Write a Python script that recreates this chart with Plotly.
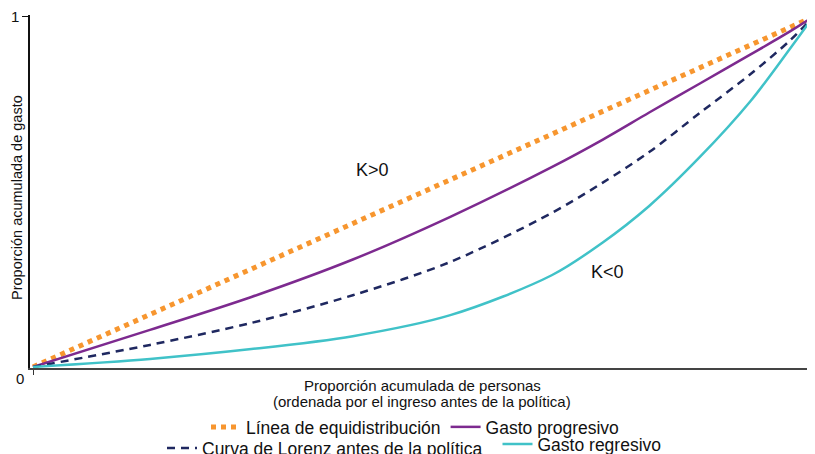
import plotly.graph_objects as go

# ================= DATA =================
X_EQ = [0, 1]
Y_EQ = [0, 1]

X_CURVE = [0, 0.15, 0.28, 0.41, 0.535, 0.665, 0.73, 0.79, 0.855, 0.92, 0.97, 1]
Y_PROGRESIVO = [0, 0.106, 0.200, 0.307, 0.429, 0.571, 0.649, 0.727, 0.810, 0.893, 0.958, 1]
Y_LORENZ = [0, 0.063, 0.126, 0.205, 0.300, 0.440, 0.526, 0.614, 0.726, 0.837, 0.932, 1]
Y_REGRESIVO = [0, 0.023, 0.051, 0.088, 0.148, 0.262, 0.355, 0.460, 0.600, 0.760, 0.908, 1]

NAMES = [
    "Línea de equidistribución",
    "Gasto progresivo",
    "Curva de Lorenz antes de la política",
    "Gasto regresivo",
]
X_TITLE_1 = "Proporción acumulada de personas"
X_TITLE_2 = "(ordenada por el ingreso antes de la política)"
Y_TITLE = "Proporción acumulada de gasto"
# ========================================

# il body della pagina ha un margine di 8px: tutto è spostato di OFF
OFF = 8
SCREEN_W, SCREEN_H = 815, 454
W, H = SCREEN_W - OFF, SCREEN_H - OFF
PLOT_L, PLOT_T, PLOT_B = 30, 15, 368        # in pixel dello schermo
ML, MR, MT = PLOT_L - OFF, 0, PLOT_T - OFF
MB = H - (PLOT_B - OFF)
PW, PH = W - ML - MR, H - MT - MB

FONT = "Liberation Sans, Arial, sans-serif"
TXT = "#111"
ORANGE = "#F7962F"
PURPLE = "#7D2A8F"
NAVY = "#1F2860"
TEAL = "#40C2C8"


def px_to_paper(px, py):
    # pixel dello schermo -> coordinate paper
    return (px - PLOT_L) / PW, (PLOT_B - py) / PH


def add_label(px, py, text, size, angle=0):
    x, y = px_to_paper(px, py)
    fig.add_annotation(x=x, y=y, xref="paper", yref="paper", text=text,
                       textangle=angle, showarrow=False,
                       xanchor="center", yanchor="middle",
                       font=dict(size=size, color=TXT))


fig = go.Figure()

fig.add_trace(go.Scatter(
    x=X_EQ, y=Y_EQ, mode="lines", name=NAMES[0],
    line=dict(color=ORANGE, width=5, dash="dot"),
    legend="legend"
))
fig.add_trace(go.Scatter(
    x=X_CURVE, y=Y_PROGRESIVO, mode="lines", name=NAMES[1],
    line=dict(color=PURPLE, width=2.5, shape="spline", smoothing=0.9),
    legend="legend"
))
fig.add_trace(go.Scatter(
    x=X_CURVE, y=Y_LORENZ, mode="lines", name=NAMES[2],
    line=dict(color=NAVY, width=2.5, dash="8px,6px", shape="spline", smoothing=0.9),
    legend="legend2"
))
fig.add_trace(go.Scatter(
    x=X_CURVE, y=Y_REGRESIVO, mode="lines", name=NAMES[3],
    line=dict(color=TEAL, width=2.5, shape="spline", smoothing=0.9),
    legend="legend3"
))

fig.add_annotation(x=0.435, y=0.563, text="K>0", showarrow=False,
                   font=dict(size=18, color=TXT))
fig.add_annotation(x=0.736, y=0.271, text="K<0", showarrow=False,
                   font=dict(size=18, color=TXT))

add_label(20, 378, "0", 15)
add_label(422, 385, X_TITLE_1, 15)
add_label(422, 401, X_TITLE_2, 15)
add_label(17, 198, Y_TITLE, 14.5, angle=-90)


def legend_at(cx, cy):
    # legenda orizzontale centrata su (cx, cy) in pixel dello schermo
    return dict(
        orientation="h", xref="paper", x=(cx - PLOT_L) / PW, xanchor="center",
        yref="container", y=(SCREEN_H - cy) / H, yanchor="middle",
        font=dict(size=17.5, family=FONT, color=TXT),
        bgcolor="rgba(0,0,0,0)", itemwidth=30, tracegroupgap=0,
    )


fig.update_layout(
    width=W, height=H,
    margin=dict(l=ML, r=MR, t=MT, b=MB, autoexpand=False),
    plot_bgcolor="white", paper_bgcolor="white",
    font=dict(family=FONT, size=14, color=TXT),
    showlegend=True,
    legend=legend_at(415, 427),
    legend2=legend_at(325, 448),
    legend3=legend_at(582, 444),
    xaxis=dict(
        range=[-0.00385, 1.00256],
        tickvals=[0, 1], ticktext=["", "1"],
        ticks="outside", ticklen=5, tickcolor="#333",
        ticklabeloverflow="allow",
        showgrid=False, zeroline=False, automargin=False,
        showline=True, linecolor="#444", linewidth=2,
        tickfont=dict(size=15),
    ),
    yaxis=dict(
        range=[-0.003, 1.0057],
        tickvals=[1], ticktext=["1"],
        ticks="outside", ticklen=6, tickcolor="#111",
        showgrid=False, zeroline=False, automargin=False,
        showline=True, linecolor="#111", linewidth=1.5,
        tickfont=dict(size=15),
    ),
)

fig.write_html("out.html")
